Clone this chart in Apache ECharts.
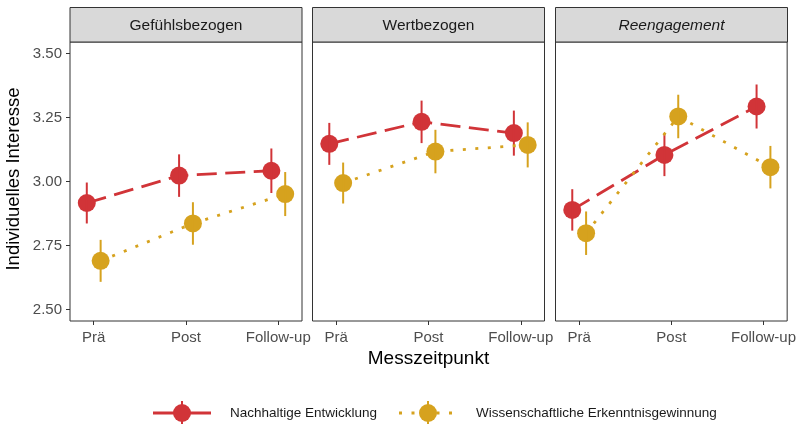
<!DOCTYPE html>
<html>
<head>
<meta charset="utf-8">
<script src="https://cdn.jsdelivr.net/npm/echarts@6/dist/echarts.min.js"></script>
<style>
  html, body { margin: 0; padding: 0; background: #ffffff; }
  #chart { width: 799px; height: 424px; }
</style>
</head>
<body>
<div id="chart"></div>
<script>
// Time points, facets and groups
const categories = ['Prä', 'Post', 'Follow-up'];
const panels = ['Gefühlsbezogen', 'Wertbezogen', 'Reengagement'];
const groups = ['Nachhaltige Entwicklung', 'Wissenschaftliche Erkenntnisgewinnung'];
const yTicks = [2.5, 2.75, 3.0, 3.25, 3.5];

// Means per facet (rows) and time point (columns)
const meanNachhaltig = [
  [2.916, 3.023, 3.042],
  [3.147, 3.233, 3.189],
  [2.889, 3.104, 3.293]
];
const meanWissen = [
  [2.690, 2.836, 2.951],
  [2.994, 3.117, 3.143],
  [2.798, 3.254, 3.056]
];
// Half-widths of the error bars
const errNachhaltig = [
  [0.080, 0.083, 0.087],
  [0.082, 0.083, 0.088],
  [0.081, 0.083, 0.086]
];
const errWissen = [
  [0.082, 0.083, 0.086],
  [0.080, 0.085, 0.088],
  [0.085, 0.085, 0.083]
];

const means = [meanNachhaltig, meanWissen];
const errs = [errNachhaltig, errWissen];

const colors = ['#d13438', '#d6a21e'];
const lineDash = [[20, 8.5], [3, 9.5]];
const dodge = [-0.075, 0.075];
const font = '"Liberation Sans", Arial, sans-serif';

const gridLeft = [70, 312.5, 555.5];
const gridW = 232, gridTop = 42, gridH = 279;
const stripTop = 7.5;

const grid = [], xAxis = [], yAxis = [], series = [], graphic = [];

panels.forEach((title, p) => {
  grid.push({
    left: gridLeft[p], top: gridTop, width: gridW, height: gridH,
    show: true, borderColor: '#333333', borderWidth: 1, backgroundColor: '#ffffff'
  });
  xAxis.push({
    type: 'value', gridIndex: p, min: 0.743, max: 3.257,
    axisLine: { show: false }, splitLine: { show: false },
    axisTick: { show: true, customValues: [1, 2, 3], length: 4, lineStyle: { color: '#333333', width: 1 } },
    axisLabel: {
      show: true, customValues: [1, 2, 3],
      formatter: v => categories[Math.round(v) - 1],
      color: '#4d4d4d', fontSize: 15, fontFamily: font, margin: 9
    }
  });
  yAxis.push({
    type: 'value', gridIndex: p, min: 2.455, max: 3.545,
    axisLine: { show: false }, splitLine: { show: false },
    axisTick: { show: p === 0, customValues: yTicks, length: 4, lineStyle: { color: '#333333', width: 1 } },
    axisLabel: {
      show: p === 0, customValues: yTicks,
      formatter: v => v.toFixed(2),
      color: '#4d4d4d', fontSize: 15, fontFamily: font, margin: 8
    }
  });

  groups.forEach((name, g) => {
    const pts = categories.map((c, j) => [j + 1 + dodge[g], means[g][p][j]]);
    const bars = categories.map((c, j) => [
      j + 1 + dodge[g], means[g][p][j] - errs[g][p][j], means[g][p][j] + errs[g][p][j]
    ]);
    series.push({
      name: name, type: 'line', xAxisIndex: p, yAxisIndex: p,
      data: pts, symbol: 'circle', symbolSize: 18, showAllSymbol: true,
      itemStyle: { color: colors[g] },
      lineStyle: { color: colors[g], width: 2.8, type: lineDash[g], cap: 'butt' },
      z: 2 + g * 2, silent: true
    });
    series.push({
      name: name, type: 'custom', xAxisIndex: p, yAxisIndex: p,
      data: bars, encode: { x: 0, y: [1, 2] },
      renderItem: (params, api) => {
        const lo = api.coord([api.value(0), api.value(1)]);
        const hi = api.coord([api.value(0), api.value(2)]);
        return {
          type: 'line',
          shape: { x1: lo[0], y1: lo[1], x2: hi[0], y2: hi[1] },
          style: { stroke: colors[g], lineWidth: 2 }
        };
      },
      z: 3 + g * 2, silent: true
    });
  });

  // Facet strip
  graphic.push({
    type: 'rect', silent: true,
    shape: { x: gridLeft[p], y: stripTop, width: gridW, height: gridTop - stripTop },
    style: { fill: '#d9d9d9', stroke: '#333333', lineWidth: 1 }
  });
  graphic.push({
    type: 'text', silent: true,
    x: gridLeft[p] + gridW / 2, y: (stripTop + gridTop) / 2 + 0.5,
    style: {
      text: title, fill: '#1a1a1a', fontSize: 15.5, fontFamily: font,
      fontStyle: p === 2 ? 'italic' : 'normal',
      align: 'center', verticalAlign: 'middle'
    }
  });
});

// Axis titles
graphic.push({
  type: 'text', silent: true, x: 428.5, y: 358.5,
  style: { text: 'Messzeitpunkt', fill: '#000000', fontSize: 19, fontFamily: font, align: 'center', verticalAlign: 'middle' }
});
graphic.push({
  type: 'text', silent: true, x: 13.5, y: 179, rotation: Math.PI / 2,
  style: { text: 'Individuelles Interesse', fill: '#000000', fontSize: 18.5, fontFamily: font, align: 'center', verticalAlign: 'middle' }
});

// Legend keys: line, point and error bar
const legendY = 413;
const keyCenters = [182, 428];
groups.forEach((name, g) => {
  const cx = keyCenters[g];
  graphic.push({
    type: 'line', silent: true,
    shape: { x1: cx - 29, y1: legendY, x2: cx + 29, y2: legendY },
    style: { stroke: colors[g], lineWidth: 2.8, lineDash: g === 0 ? null : lineDash[g], lineCap: 'butt' }
  });
  graphic.push({
    type: 'circle', silent: true,
    shape: { cx: cx, cy: legendY, r: 9 },
    style: { fill: colors[g] }
  });
  graphic.push({
    type: 'line', silent: true,
    shape: { x1: cx, y1: legendY - 12, x2: cx, y2: legendY + 12 },
    style: { stroke: colors[g], lineWidth: 2 }
  });
  graphic.push({
    type: 'text', silent: true, x: cx + 48, y: legendY,
    style: { text: name, fill: '#1a1a1a', fontSize: 13.5, fontFamily: font, align: 'left', verticalAlign: 'middle' }
  });
});

const chart = echarts.init(document.getElementById('chart'), null, { renderer: 'canvas' });
chart.setOption({
  animation: false,
  backgroundColor: '#ffffff',
  grid: grid,
  xAxis: xAxis,
  yAxis: yAxis,
  series: series,
  graphic: graphic
});
</script>
</body>
</html>
